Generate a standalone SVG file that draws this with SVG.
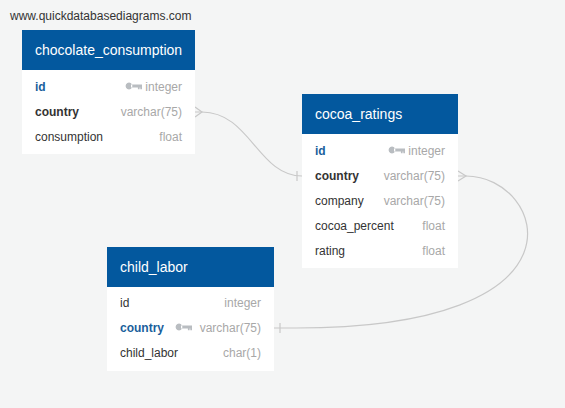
<svg xmlns="http://www.w3.org/2000/svg" width="565" height="408" viewBox="0 0 565 408">
<style>
.bg{fill:#f4f5f5}
.hdr{fill:#03589e}
.body{fill:#ffffff}
.title{font-family:"Liberation Sans",Arial,sans-serif;font-size:14px;fill:#ffffff}
.f{font-family:"Liberation Sans",Arial,sans-serif;font-size:12px;fill:#333333}
.pk{fill:#1a5f9c;font-weight:bold}
.fk{font-weight:bold}
.t{font-family:"Liberation Sans",Arial,sans-serif;font-size:12px;fill:#a8a8a8;text-anchor:end}
.logo{font-family:"Liberation Sans",Arial,sans-serif;font-size:12px;fill:#333333}
.con{fill:none;stroke:#c8c8c8;stroke-width:1.2}
.key{fill:#b9bdc1}
</style>
<defs>
<path id="keyicon" d="M0,-3.4 a3.4,3.4 0 1 0 0.01,0 Z M2,-1.6 H13 V3.2 H11.3 V1.4 H10.6 V3.2 H8.9 V1.4 H2 Z"/>
</defs>
<rect class="bg" x="0" y="0" width="565" height="408"/>
<text class="logo" x="10" y="20">www.quickdatabasediagrams.com</text>

<g id="connectors">
<path class="con" d="M195,112 L202,112 C250,112 258,176 302,176"/>
<path class="con" d="M195,107 L202,112 L195,117"/>
<path class="con" d="M297,171 V181"/>
<path class="con" d="M458,176 L466,176 C545,176 600,330 290,328 L274,328"/>
<path class="con" d="M458,171 L466,176 L458,181"/>
<path class="con" d="M280,323 V333"/>
</g>

<g id="chocolate_consumption">
<rect class="body" x="22" y="70" width="173" height="84"/>
<rect class="hdr" x="22" y="30" width="173" height="40"/>
<text class="title" x="35" y="55">chocolate_consumption</text>
<text class="f pk" x="35" y="91">id</text>
<use href="#keyicon" class="key" x="129" y="86"/>
<text class="t" x="182" y="91">integer</text>
<text class="f fk" x="35" y="116">country</text>
<text class="t" x="182" y="116">varchar(75)</text>
<text class="f" x="35" y="141">consumption</text>
<text class="t" x="182" y="141">float</text>
</g>

<g id="cocoa_ratings">
<rect class="body" x="302" y="134" width="156" height="134"/>
<rect class="hdr" x="302" y="94" width="156" height="40"/>
<text class="title" x="315" y="119">cocoa_ratings</text>
<text class="f pk" x="315" y="155">id</text>
<use href="#keyicon" class="key" x="392" y="150"/>
<text class="t" x="445" y="155">integer</text>
<text class="f fk" x="315" y="180">country</text>
<text class="t" x="445" y="180">varchar(75)</text>
<text class="f" x="315" y="205">company</text>
<text class="t" x="445" y="205">varchar(75)</text>
<text class="f" x="315" y="230">cocoa_percent</text>
<text class="t" x="445" y="230">float</text>
<text class="f" x="315" y="255">rating</text>
<text class="t" x="445" y="255">float</text>
</g>

<g id="child_labor">
<rect class="body" x="107" y="287" width="167" height="84"/>
<rect class="hdr" x="107" y="247" width="167" height="40"/>
<text class="title" x="120" y="272">child_labor</text>
<text class="f" x="120" y="307">id</text>
<text class="t" x="261" y="307">integer</text>
<text class="f pk" x="120" y="332">country</text>
<use href="#keyicon" class="key" x="179" y="327"/>
<text class="t" x="261" y="332">varchar(75)</text>
<text class="f" x="120" y="357">child_labor</text>
<text class="t" x="261" y="357">char(1)</text>
</g>
</svg>
